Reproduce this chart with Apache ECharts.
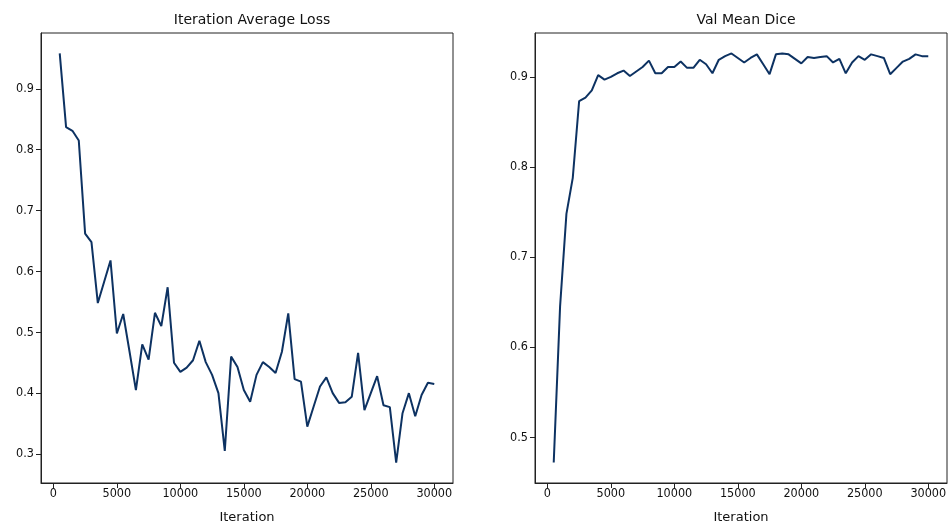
<!DOCTYPE html>
<html>
<head>
<meta charset="utf-8">
<script src="https://cdn.jsdelivr.net/npm/echarts@6/dist/echarts.min.js"></script>
<style>html,body{margin:0;padding:0;background:#fff}#c{width:951px;height:527px}</style>
</head>
<body>
<div id="c"></div>
<script>
const iterations = [500,1000,1500,2000,2500,3000,3500,4000,4500,5000,5500,6000,6500,7000,7500,8000,8500,9000,9500,10000,10500,11000,11500,12000,12500,13000,13500,14000,14500,15000,15500,16000,16500,17000,17500,18000,18500,19000,19500,20000,20500,21000,21500,22000,22500,23000,23500,24000,24500,25000,25500,26000,26500,27000,27500,28000,28500,29000,29500,30000];
const lossValues = [0.958,0.837,0.831,0.815,0.662,0.648,0.548,0.583,0.618,0.498,0.530,0.468,0.405,0.480,0.455,0.532,0.510,0.574,0.450,0.435,0.442,0.454,0.486,0.451,0.430,0.400,0.305,0.460,0.443,0.405,0.386,0.430,0.451,0.443,0.433,0.468,0.531,0.423,0.419,0.345,0.378,0.411,0.426,0.400,0.384,0.385,0.394,0.466,0.372,0.400,0.428,0.380,0.377,0.286,0.367,0.400,0.362,0.397,0.417,0.415];
const diceValues = [0.472,0.645,0.748,0.788,0.873,0.877,0.885,0.902,0.897,0.900,0.904,0.907,0.901,0.906,0.911,0.918,0.904,0.904,0.911,0.911,0.917,0.910,0.910,0.919,0.914,0.904,0.919,0.923,0.926,0.921,0.916,0.921,0.925,0.914,0.903,0.925,0.926,0.925,0.920,0.915,0.922,0.921,0.922,0.923,0.916,0.920,0.904,0.916,0.923,0.919,0.925,0.923,0.921,0.903,0.910,0.917,0.920,0.925,0.923,0.923];
const xTicks = [0,5000,10000,15000,20000,25000,30000];
const lossTicks = [0.3,0.4,0.5,0.6,0.7,0.8,0.9];
const diceTicks = [0.5,0.6,0.7,0.8,0.9];
const titles = ['Iteration Average Loss','Val Mean Dice'];
const xName = 'Iteration';

const FONT = "'DejaVu Sans Condensed','DejaVu Sans',sans-serif";
const FONT_R = "'DejaVu Sans',sans-serif";
const TXT = '#111';
const LINE = '#0d3262';

function pad(arr){const mn=Math.min(...arr),mx=Math.max(...arr),r=mx-mn;return [mn-0.05*r,mx+0.05*r];}
const xr = pad(iterations);
const lr = pad(lossValues);
const dr = pad(diceValues);

function xAxis(idx){
  return {
    type:'value', gridIndex:idx, min:xr[0], max:xr[1],
    name:xName, nameLocation:'middle', nameGap:28,
    nameTextStyle:{fontFamily:FONT_R,fontSize:13,color:TXT},
    axisLine:{show:true,onZero:false,lineStyle:{color:'#222',width:1}},
    axisTick:{show:true,inside:false,length:5,lineStyle:{color:'#222'},customValues:xTicks},
    axisLabel:{fontFamily:FONT,fontSize:12.5,color:TXT,margin:4,customValues:xTicks,formatter:v=>String(v)},
    splitLine:{show:false}
  };
}
function yAxis(idx,r,ticks){
  return {
    type:'value', gridIndex:idx, min:r[0], max:r[1],
    axisLine:{show:true,onZero:false,lineStyle:{color:'#222',width:1}},
    axisTick:{show:true,inside:false,length:5,lineStyle:{color:'#222'},customValues:ticks},
    axisLabel:{fontFamily:FONT,fontSize:12.5,color:TXT,margin:7,customValues:ticks,formatter:v=>v.toFixed(1)},
    splitLine:{show:false}
  };
}

const chart = echarts.init(document.getElementById('c'),null,{renderer:'canvas'});
chart.setOption({
  animation:false,
  backgroundColor:'#fff',
  title:[
    {text:titles[0],left:247,top:8,textAlign:'center',textStyle:{fontFamily:FONT_R,fontSize:14,fontWeight:'normal',color:TXT}},
    {text:titles[1],left:741,top:8,textAlign:'center',textStyle:{fontFamily:FONT_R,fontSize:14,fontWeight:'normal',color:TXT}}
  ],
  grid:[
    {left:41,top:33,width:412,height:450,show:true,borderColor:'#222',borderWidth:1,backgroundColor:'transparent',containLabel:false,outerBoundsMode:'none'},
    {left:535,top:33,width:412,height:450,show:true,borderColor:'#222',borderWidth:1,backgroundColor:'transparent',containLabel:false,outerBoundsMode:'none'}
  ],
  xAxis:[xAxis(0),xAxis(1)],
  yAxis:[yAxis(0,lr,lossTicks),yAxis(1,dr,diceTicks)],
  series:[
    {type:'line',xAxisIndex:0,yAxisIndex:0,data:iterations.map((x,i)=>[x,lossValues[i]]),showSymbol:false,symbol:'none',lineStyle:{color:LINE,width:2},itemStyle:{color:LINE}},
    {type:'line',xAxisIndex:1,yAxisIndex:1,data:iterations.map((x,i)=>[x,diceValues[i]]),showSymbol:false,symbol:'none',lineStyle:{color:LINE,width:2},itemStyle:{color:LINE}}
  ]
});
</script>
</body>
</html>
